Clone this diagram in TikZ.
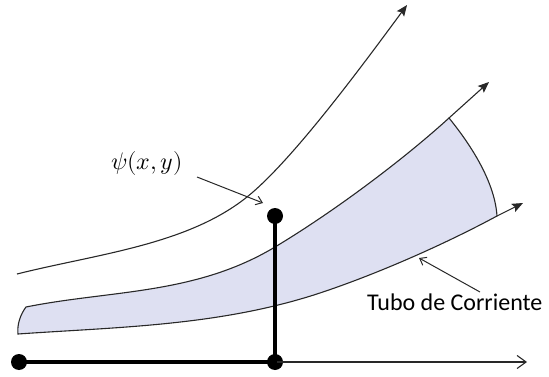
\documentclass[tikz,border=0pt]{standalone}
\usepackage{unicode-math}
\newfontfamily\labelfont{Carlito}
\usetikzlibrary{arrows.meta}
\definecolor{tubefill}{RGB}{222,224,242}
\definecolor{thinline}{RGB}{40,40,40}
\tikzset{
  streamline/.style={draw=thinline, line width=1.1pt},
  filltip/.style={-{Stealth[length=11pt,width=9pt,inset=2pt]}},
  barbtip/.style={-{Straight Barb[length=6pt,width=9pt]}},
  axisline/.style={draw=thinline, line width=1.1pt, -{Straight Barb[length=9pt,width=13pt]}},
  heavy/.style={draw=black, line width=4.2pt},
  dotnode/.style={circle, fill=black, inner sep=0pt, minimum size=16pt},
  pointer/.style={draw=thinline, line width=1pt, barbtip},
}
\begin{document}
\begin{tikzpicture}[x=1pt,y=-1pt]
\useasboundingbox (0,0) rectangle (549,377);
% key points
\coordinate (tubeTL) at (26,307);
\coordinate (tubeBL) at (18,334);
\coordinate (tubeTR) at (449,118);
\coordinate (tubeBR) at (497,216);
\coordinate (midJoin) at (275,247);
\coordinate (lowJoin) at (320,293);
\coordinate (midTip) at (489,82);
\coordinate (lowTip) at (523,203);
\coordinate (axisTip) at (527,362);
\coordinate (topStart) at (17,274);
\coordinate (topJoin) at (247,197);
\coordinate (topTip) at (407,5);
% stream tube
\path[fill=tubefill, streamline]
  (tubeTL) .. controls (111,290) and (195,295) .. (midJoin)
  .. controls (335,211) and (404,159) .. (tubeTR)
  .. controls (475,150) and (495,185) .. (tubeBR)
  .. controls (447,243) and (380,273) .. (lowJoin)
  .. controls (220,326) and (118,327) .. (tubeBL)
  .. controls (17,325) and (20,315) .. (tubeTL) -- cycle;
\draw[streamline, filltip] (tubeTR) -- (midTip);
\draw[streamline, filltip] (tubeBR) -- (lowTip);
% upper streamline
\draw[streamline, filltip] (topStart) .. controls (97,254) and (187,245) .. (topJoin)
  .. controls (292,161) and (362,66) .. (topTip);
% axes and points
\node[dotnode] (o) at (19,362) {};
\node[dotnode] (p) at (275,362) {};
\node[dotnode] (q) at (275,216) {};
\draw[axisline] (p.center) -- (axisTip);
\draw[heavy] (o.center) -- (p.center) -- (q.center);
% labels
\node[anchor=base west, inner sep=0pt, font=\fontsize{24}{28}\selectfont] (psi) at (111,170) {$\psi(x,y)$};
\coordinate (psiTail) at (197,177);
\coordinate (psiTip) at (263,203);
\draw[pointer] (psiTail) -- (psiTip);
\node[anchor=base west, inner sep=0pt, font=\labelfont\fontsize{24}{28}\selectfont] (tubo) at (367,310) {Tubo de Corriente};
\coordinate (tuboTail) at (480,292);
\coordinate (tuboTip) at (419,258);
\draw[pointer] (tuboTail) -- (tuboTip);
\end{tikzpicture}
\end{document}
